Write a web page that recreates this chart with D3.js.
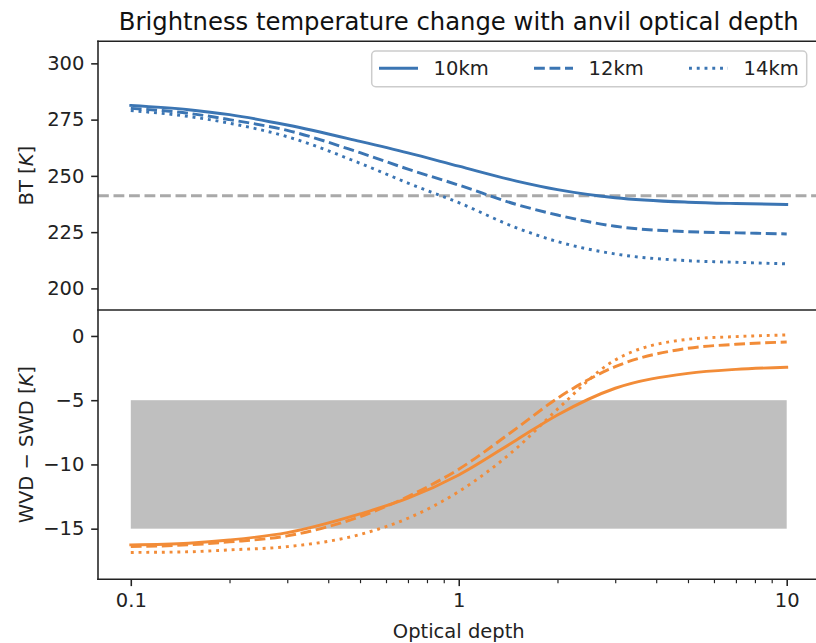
<!DOCTYPE html>
<html>
<head>
<meta charset="utf-8">
<script src="https://cdn.jsdelivr.net/npm/d3@7"></script>
<style>
  body { margin: 0; background: #fff; }
  svg { display: block; font-family: "DejaVu Sans", sans-serif; }
</style>
</head>
<body>
<svg id="chart"></svg>
<script>
// optical depth samples
const tau = [0.1, 0.15, 0.2, 0.3, 0.5, 0.7, 1, 1.5, 2, 3, 5, 7, 10];

// brightness temperature [K] per cloud-top height
const bt10 = [281.3, 279.4, 277.2, 272.6, 265.3, 260.2, 254.3, 247.7, 243.9, 240.3, 238.3, 237.7, 237.3];
const bt12 = [280.0, 277.8, 275.0, 270.2, 260.3, 253.0, 245.9, 237.3, 232.6, 227.6, 225.2, 224.7, 224.2];
const bt14 = [279.0, 276.4, 273.4, 267.4, 255.6, 246.8, 238.1, 226.9, 220.8, 215.3, 212.3, 211.6, 210.9];

// WVD - SWD [K]
const wd10 = [-16.26, -16.13, -15.88, -15.31, -13.85, -12.63, -10.82, -8.09, -6.15, -4.07, -2.91, -2.6, -2.44];
const wd12 = [-16.39, -16.26, -16.03, -15.56, -14.06, -12.5, -10.37, -7.19, -4.85, -2.39, -0.96, -0.65, -0.47];
const wd14 = [-16.85, -16.8, -16.65, -16.4, -15.45, -14.19, -12.11, -8.74, -5.7, -1.87, -0.26, -0.05, 0.08];

const labels = ["10km", "12km", "14km"];
const btThreshold = 241.2;
const wdBand = [-15, -5];

const btTicks = [200, 225, 250, 275, 300];
const wdTicks = [-15, -10, -5, 0];
const xTicks = [0.1, 1, 10];
const xMinor = [0.2, 0.3, 0.4, 0.5, 0.6, 0.7, 0.8, 0.9, 2, 3, 4, 5, 6, 7, 8, 9];

const width = 816, height = 643;
const pt = 1.95;
const fs = 19.5;
const blue = "#3b75b3", orange = "#f28c38";
const dashes = [null, `${5.55*pt},${2.4*pt}`, `${1.5*pt},${2.48*pt}`];

const left = 98, right = 819.5;
const topY0 = 41.3, midY = 310, botY1 = 579.3;

const svg = d3.select("#chart").attr("width", width).attr("height", height);

const lo = Math.log10(0.1), hi = Math.log10(10), pad = 0.05 * (hi - lo);
const x = d3.scaleLog().domain([10 ** (lo - pad), 10 ** (hi + pad)]).range([left, right]);
const yTop = d3.scaleLinear().domain([190.4, 309.8]).range([midY, topY0]);
const yBot = d3.scaleLinear().domain([-18.94, 2.02]).range([botY1, midY]);

svg.append("defs").append("clipPath").attr("id", "clipTop")
  .append("rect").attr("x", left).attr("y", topY0).attr("width", right - left).attr("height", midY - topY0);
svg.select("defs").append("clipPath").attr("id", "clipBot")
  .append("rect").attr("x", left).attr("y", midY).attr("width", right - left).attr("height", botY1 - midY);

// grey band in lower panel
svg.append("rect")
  .attr("x", x(0.1)).attr("width", x(10) - x(0.1))
  .attr("y", yBot(wdBand[1])).attr("height", yBot(wdBand[0]) - yBot(wdBand[1]))
  .attr("fill", "#bfbfbf");

// threshold line in upper panel
svg.append("line")
  .attr("x1", left).attr("x2", right)
  .attr("y1", yTop(btThreshold)).attr("y2", yTop(btThreshold))
  .attr("stroke", "#a9a9a9").attr("stroke-width", 1.5 * pt)
  .attr("stroke-dasharray", `${5.55*pt},${2.4*pt}`);

function drawSeries(series, y, color, clip) {
  const line = d3.line()
    .curve(d3.curveMonotoneX)
    .x((d, i) => x(tau[i]))
    .y(d => y(d));
  const g = svg.append("g").attr("clip-path", `url(#${clip})`);
  series.forEach((s, k) => {
    g.append("path")
      .datum(s)
      .attr("fill", "none")
      .attr("stroke", color)
      .attr("stroke-width", 1.5 * pt)
      .attr("stroke-linejoin", "round")
      .attr("stroke-linecap", k == 0 ? "square" : "butt")
      .attr("stroke-dasharray", dashes[k])
      .attr("d", line);
  });
}
drawSeries([bt10, bt12, bt14], yTop, blue, "clipTop");
drawSeries([wd10, wd12, wd14], yBot, orange, "clipBot");

// axes
function styleAxis(g) {
  g.select(".domain").remove();
  g.selectAll(".tick line").attr("stroke", "#222").attr("stroke-width", 0.8 * pt);
  g.selectAll(".tick text").attr("fill", "#222").attr("font-size", fs).attr("font-family", "DejaVu Sans");
}
svg.append("g").attr("transform", `translate(${left},0)`)
  .call(d3.axisLeft(yTop).tickValues(btTicks).tickSize(3.5 * pt).tickPadding(3.5 * pt))
  .call(styleAxis);
svg.append("g").attr("transform", `translate(${left},0)`)
  .call(d3.axisLeft(yBot).tickValues(wdTicks).tickSize(3.5 * pt).tickPadding(3.5 * pt)
    .tickFormat(d => d < 0 ? "\u2212" + Math.abs(d) : d))
  .call(styleAxis);
svg.append("g").attr("transform", `translate(0,${botY1})`)
  .call(d3.axisBottom(x).tickValues(xTicks).tickSize(3.5 * pt).tickPadding(3.5 * pt).tickFormat(d3.format("~g")))
  .call(styleAxis);
svg.append("g").attr("transform", `translate(0,${botY1})`)
  .call(d3.axisBottom(x).tickValues(xMinor).tickSize(2 * pt).tickFormat(""))
  .call(styleAxis)
  .call(g => g.selectAll(".tick line").attr("stroke-width", 0.6 * pt));

// spines
const spine = (x1, y1, x2, y2) => svg.append("line")
  .attr("x1", x1).attr("y1", y1).attr("x2", x2).attr("y2", y2)
  .attr("stroke", "#222").attr("stroke-width", 0.8 * pt).attr("stroke-linecap", "square");
spine(left, topY0, left, botY1);
spine(right, topY0, right, botY1);
spine(left, topY0, right, topY0);
spine(left, midY, right, midY);
spine(left, botY1, right, botY1);

// title and labels
svg.append("text").attr("x", (left + right) / 2).attr("y", 29.5)
  .attr("text-anchor", "middle").attr("font-size", 24.3).attr("fill", "#111")
  .text("Brightness temperature change with anvil optical depth");
svg.append("text").attr("x", (left + right) / 2).attr("y", 637.5)
  .attr("text-anchor", "middle").attr("font-size", fs).attr("fill", "#222")
  .text("Optical depth");

function yLabel(cy, main) {
  const t = svg.append("text")
    .attr("transform", `translate(33,${cy}) rotate(-90)`)
    .attr("text-anchor", "middle").attr("font-size", fs).attr("fill", "#222");
  t.append("tspan").text(main + " [");
  t.append("tspan").attr("font-style", "italic").text("K");
  t.append("tspan").text("]");
}
yLabel((topY0 + midY) / 2, "BT");
yLabel((midY + botY1) / 2, "WVD \u2212 SWD");

// legend
const lg = svg.append("g");
lg.append("rect")
  .attr("x", 371.7).attr("y", 51).attr("width", 435).attr("height", 35.7)
  .attr("rx", 4).attr("fill", "#fff").attr("fill-opacity", 0.8)
  .attr("stroke", "#cccccc").attr("stroke-width", 1.5);
labels.forEach((lab, k) => {
  const x0 = 379 + k * 155;
  lg.append("line")
    .attr("x1", x0).attr("x2", x0 + 2 * fs).attr("y1", 68.3).attr("y2", 68.3)
    .attr("stroke", blue).attr("stroke-width", 1.5 * pt)
    .attr("stroke-dasharray", dashes[k]);
  lg.append("text").attr("x", x0 + 2 * fs + 0.8 * fs).attr("y", 75.4)
    .attr("font-size", fs).attr("fill", "#222").text(lab);
});
</script>
</body>
</html>
